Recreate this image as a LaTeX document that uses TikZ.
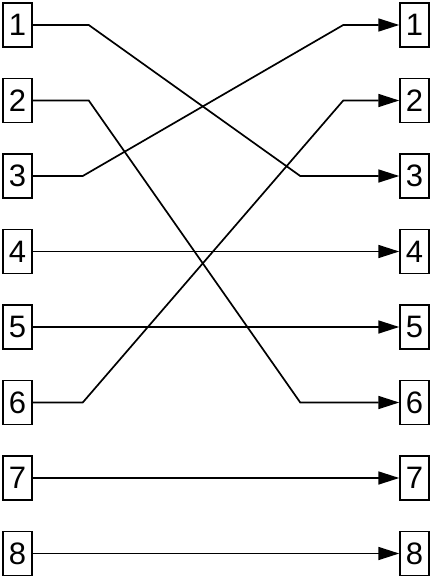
\documentclass[tikz,border=0pt]{standalone}
\usepackage{fontspec}
\setmainfont{Liberation Sans}
\usetikzlibrary{arrows.meta}

\begin{document}
\begin{tikzpicture}[auto, node distance=75.5pt, line width=1.7pt,
		pin box/.style={rectangle,draw,line width=1.5pt,inner sep=0pt,
			minimum width=29pt,minimum height=44pt,font=\fontsize{31}{33}\selectfont},
		wire/.style={-{Triangle[length=21pt,width=13pt]}}]

		\useasboundingbox (0,0) rectangle (433pt,-578pt);

		% left column
		\node[pin box] (L1) at (17.5pt,-25pt) {1};
		\node[pin box] (L2) [below of=L1] {2};
		\node[pin box] (L3) [below of=L2] {3};
		\node[pin box] (L4) [below of=L3] {4};
		\node[pin box] (L5) [below of=L4] {5};
		\node[pin box] (L6) [below of=L5] {6};
		\node[pin box] (L7) [below of=L6] {7};
		\node[pin box] (L8) [below of=L7] {8};

		% right column
		\node[pin box] (R1) [right of=L1, node distance=397pt] {1};
		\node[pin box] (R2) [below of=R1] {2};
		\node[pin box] (R3) [below of=R2] {3};
		\node[pin box] (R4) [below of=R3] {4};
		\node[pin box] (R5) [below of=R4] {5};
		\node[pin box] (R6) [below of=R5] {6};
		\node[pin box] (R7) [below of=R6] {7};
		\node[pin box] (R8) [below of=R7] {8};

		% crossed wires
		\draw[wire] (L1.east) -- ([xshift=56pt]L1.east) -- ([xshift=-99pt]R3.west) -- (R3.west);
		\draw[wire] (L2.east) -- ([xshift=56pt]L2.east) -- ([xshift=-99pt]R6.west) -- (R6.west);
		\draw[wire] (L3.east) -- ([xshift=50pt]L3.east) -- ([xshift=-56pt]R1.west) -- (R1.west);
		\draw[wire] (L6.east) -- ([xshift=50pt]L6.east) -- ([xshift=-56pt]R2.west) -- (R2.west);

		% straight wires
		\path
		(L4) [wire] edge (R4)
		(L5) [wire] edge (R5)
		(L7) [wire] edge (R7)
		(L8) [wire] edge (R8);
		\end{tikzpicture}
\end{document}
